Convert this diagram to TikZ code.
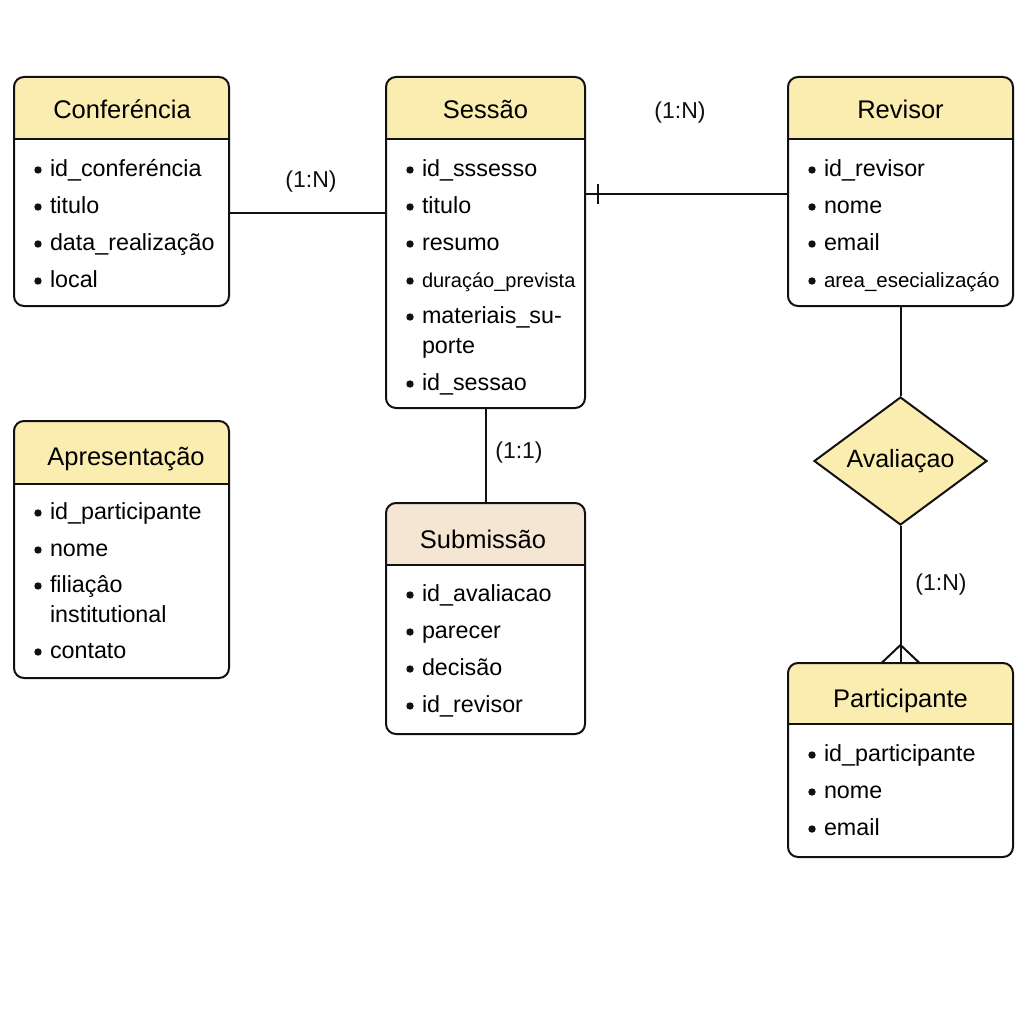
\documentclass[tikz,border=0pt]{standalone}
\usepackage{fontspec}
\setmainfont{Liberation Sans}
\usetikzlibrary{shapes.geometric}
\definecolor{hdr}{HTML}{FBEDB0}
\definecolor{hdrsub}{HTML}{F4E6D2}
\definecolor{ink}{HTML}{111111}

% entity box: name, x1, y1, x2, y2, header bottom, header colour
\newcommand\entitybox[7]{%
  \begin{scope}
    \clip[rounded corners=10pt] (#2,#3) rectangle (#4,#5);
    \fill[#7] (#2,#3) rectangle (#4,#6);
  \end{scope}
  \draw[ink] (#2,#6) -- (#4,#6);
  \node[boxframe, minimum width={#4-#2}, minimum height={#5-#3}] (#1) at (#2,#3) {};
}
% attribute row: name, box left x, bullet centre y, text
\newcommand\attrrow[4]{%
  \fill[ink] (#2+24,#3) circle (3.7pt);
  \node[attr] (#1) at (#2+35,#3+6.5) {#4};
}

\begin{document}
\begin{tikzpicture}[x=1pt,y=-1pt, line width=2pt,
  boxframe/.style={draw=ink, rounded corners=10pt, inner sep=0pt, outer sep=0pt, anchor=north west},
  title/.style={font=\fontsize{25.5}{30}\selectfont, inner sep=0pt, anchor=base},
  attr/.style={font=\fontsize{23.3}{30}\selectfont, anchor=base west, inner sep=0pt},
  card/.style={font=\fontsize{23}{28}\selectfont, inner sep=0pt, text=ink},
  link/.style={draw=ink, line width=2pt},
]
\useasboundingbox[fill=white] (0,0) rectangle (1024,1024);

% ---- Conferência
\entitybox{conf}{14}{77}{229}{306}{139}{hdr}
\node[title] (confT) at (122,119) {Conferéncia};
\attrrow{c1}{14}{170}{id\_conferéncia}
\attrrow{c2}{14}{207}{titulo}
\attrrow{c3}{14}{244}{data\_realização}
\attrrow{c4}{14}{281}{local}

% ---- Sessão
\entitybox{sess}{386}{77}{585}{408}{139}{hdr}
\node[title] (sessT) at (485.5,119) {Sessão};
\attrrow{s1}{386}{170}{id\_sssesso}
\attrrow{s2}{386}{207}{titulo}
\attrrow{s3}{386}{244}{resumo}
\attrrow{s4}{386}{281}{\fontsize{20}{24}\selectfont duraçáo\_prevista}
\attrrow{s5}{386}{317}{\begin{tabular}[t]{@{}l@{}}materiais\_su-\\porte\end{tabular}}
\attrrow{s6}{386}{384}{id\_sessao}

% ---- Revisor
\entitybox{rev}{788}{77}{1013}{306}{139}{hdr}
\node[title] (revT) at (900.5,119) {Revisor};
\attrrow{r1}{788}{170}{id\_revisor}
\attrrow{r2}{788}{207}{nome}
\attrrow{r3}{788}{244}{email}
\attrrow{r4}{788}{281}{\fontsize{20.5}{24}\selectfont area\_esecializaçáo}

% ---- Apresentação
\entitybox{apr}{14}{421}{229}{678}{484}{hdr}
\node[title] (aprT) at (126,465) {Apresentação};
\attrrow{a1}{14}{513}{id\_participante}
\attrrow{a2}{14}{550}{nome}
\attrrow{a3}{14}{586}{\begin{tabular}[t]{@{}l@{}}filiaçâo\\institutional\end{tabular}}
\attrrow{a4}{14}{652}{contato}

% ---- Submissão
\entitybox{sub}{386}{503}{585}{734}{565}{hdrsub}
\node[title] (subT) at (483,548) {Submissão};
\attrrow{b1}{386}{595}{id\_avaliacao}
\attrrow{b2}{386}{632}{parecer}
\attrrow{b3}{386}{669}{decisão}
\attrrow{b4}{386}{706}{id\_revisor}

% ---- Participante
\entitybox{part}{788}{663}{1013}{857}{724}{hdr}
\node[title] (partT) at (900.5,707) {Participante};
\attrrow{p1}{788}{755}{id\_participante}
\attrrow{p2}{788}{792}{nome}
\attrrow{p3}{788}{829}{email}

% ---- relationship diamond
\node[diamond, draw=ink, fill=hdr, aspect=1.35, minimum width=173pt, minimum height=128pt,
      inner sep=0pt, font=\fontsize{25}{28}\selectfont] (aval) at (900.5,461) {Avaliaçao};

% ---- connectors
\draw[link] ([yshift=-21.5pt]conf.east) coordinate (cs) -- (cs -| sess.west);
\draw[link] ([yshift=48.5pt]sess.east) coordinate (sr) -- (sr -| rev.west);
\draw[link] ([xshift=13pt]sr) ++(0,-10) -- ++(0,20);
\draw[link] (sess.south) -- (sub.north);
\draw[link] (rev.south) -- (aval.north);
\draw[link] (aval.south) -- (part.north);
\draw[link] ([yshift=18pt]part.north) -- ([xshift=-19pt]part.north);
\draw[link] ([yshift=18pt]part.north) -- ([xshift=19pt]part.north);

% ---- cardinalities
\node[card] (k1) at (311,182) {(1:N)};
\node[card] (k2) at (680,113) {(1:N)};
\node[card] (k3) at (519,453) {(1:1)};
\node[card] (k4) at (941,585) {(1:N)};
\end{tikzpicture}
\end{document}
